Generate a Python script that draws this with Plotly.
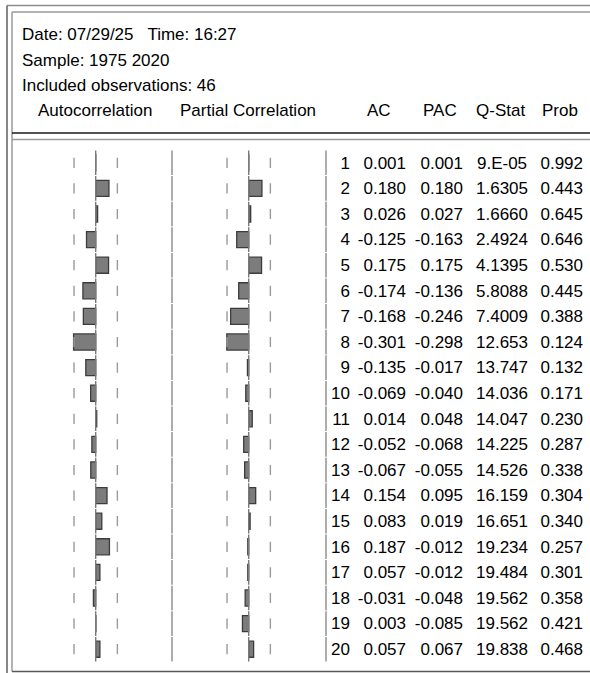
import plotly.graph_objects as go

# ---------------- data ----------------
header_lines = ["Date: 07/29/25   Time: 16:27", "Sample: 1975 2020", "Included observations: 46"]
panel_titles = ["Autocorrelation", "Partial Correlation"]
col_headers = ["AC", "PAC", "Q-Stat", "Prob"]
n_obs = 46
lags = list(range(1, 21))
ac = [0.001, 0.180, 0.026, -0.125, 0.175, -0.174, -0.168, -0.301, -0.135, -0.069,
      0.014, -0.052, -0.067, 0.154, 0.083, 0.187, 0.057, -0.031, 0.003, 0.057]
pac = [0.001, 0.180, 0.027, -0.163, 0.175, -0.136, -0.246, -0.298, -0.017, -0.040,
       0.048, -0.068, -0.055, 0.095, 0.019, -0.012, -0.012, -0.048, -0.085, 0.067]
q_stat = [9e-05, 1.6305, 1.6660, 2.4924, 4.1395, 5.8088, 7.4009, 12.653, 13.747, 14.036,
          14.047, 14.225, 14.526, 16.159, 16.651, 19.234, 19.484, 19.562, 19.562, 19.838]
prob = [0.992, 0.443, 0.645, 0.646, 0.530, 0.445, 0.388, 0.124, 0.132, 0.171,
        0.230, 0.287, 0.338, 0.304, 0.340, 0.257, 0.301, 0.358, 0.421, 0.468]

bound = 2 / n_obs ** 0.5


def fmt_q(v):
    if v < 0.001:
        m, e = f"{v:.0E}".split("E")
        return f"{m}.E{e}"
    intlen = len(str(int(v)))
    return f"{v:.{5 - intlen}f}"


# ---------------- geometry (pixels) ----------------
W, H = 590, 673
FONT = "Liberation Sans, Arial, sans-serif"
FS = 17
ROW_TOP, ROW_BOT = 150, 662
TXT_SHIFT = 1.5
SCALE = 73.5
AC_C, PAC_C = 95.7, 248.7


def px(x):
    return x / W


def py(y):
    return 1 - y / H


fig = go.Figure()
n = len(lags)


def seg_xy(xval):
    xs, ys = [], []
    for i in lags:
        xs += [xval, xval, None]
        ys += [i - 0.48, i + 0.48, None]
    return xs, ys


def dash_xy(xval):
    xs, ys = [], []
    for i in lags:
        xs += [xval, xval, None]
        ys += [i - 0.2, i + 0.2, None]
    return xs, ys


for xa in ["x", "x2"]:
    for b in (-bound, bound):
        xs, ys = dash_xy(b)
        fig.add_trace(go.Scatter(x=xs, y=ys, mode="lines", xaxis=xa, yaxis="y",
                                 line=dict(color="#9a9a9a", width=1.4), hoverinfo="skip"))
    xs, ys = seg_xy(0)
    fig.add_trace(go.Scatter(x=xs, y=ys, mode="lines", xaxis=xa, yaxis="y",
                             line=dict(color="#7a7a7a", width=1.4), hoverinfo="skip"))

for xa, vals in (("x", ac), ("x2", pac)):
    fig.add_trace(go.Bar(x=vals, y=lags, orientation="h", xaxis=xa, yaxis="y",
                         width=0.63, base=0,
                         marker=dict(color="#7c7c7c", line=dict(color="#3c3c3c", width=1.3)),
                         hoverinfo="skip"))

# separators between panels (pixel axis x3)
for sx in (172, 326):
    xs, ys = seg_xy(sx)
    fig.add_trace(go.Scatter(x=xs, y=ys, mode="lines", xaxis="x3", yaxis="y",
                             line=dict(color="#8a8a8a", width=1.4), hoverinfo="skip"))

# text columns
cols = [
    (350, "middle left", [str(l) for l in lags]),
    (406, "middle left", [f"{v:.3f}" for v in ac]),
    (463, "middle left", [f"{v:.3f}" for v in pac]),
    (502, "middle center", [fmt_q(v) for v in q_stat]),
    (583, "middle left", [f"{v:.3f}" for v in prob]),
]
for xpos, tp, texts in cols:
    fig.add_trace(go.Scatter(x=[xpos] * n, y=lags, mode="text", text=texts,
                             textposition=tp, xaxis="x3", yaxis="y2", cliponaxis=False,
                             textfont=dict(family=FONT, size=FS, color="#000000"),
                             hoverinfo="skip"))

axis_common = dict(showgrid=False, zeroline=False, showticklabels=False, ticks="",
                   showline=False, fixedrange=True)
fig.update_layout(
    width=W, height=H, margin=dict(l=0, r=0, t=0, b=0),
    paper_bgcolor="white", plot_bgcolor="rgba(0,0,0,0)",
    showlegend=False, barmode="overlay",
    xaxis=dict(domain=[px(AC_C - SCALE), px(AC_C + SCALE)], range=[-1, 1], anchor="y", **axis_common),
    xaxis2=dict(domain=[px(PAC_C - SCALE), px(PAC_C + SCALE)], range=[-1, 1], anchor="y", **axis_common),
    xaxis3=dict(domain=[0, 1], range=[0, W], anchor="y", **axis_common),
    yaxis=dict(domain=[py(ROW_BOT), py(ROW_TOP)], range=[n + 0.5, 0.5], **axis_common),
    yaxis2=dict(domain=[py(ROW_BOT + TXT_SHIFT), py(ROW_TOP + TXT_SHIFT)], range=[n + 0.5, 0.5],
                anchor="x3", **axis_common),
)

# header annotations
ann = []
for k, t in enumerate(header_lines):
    ann.append(dict(x=px(20), y=py(34.5 + 25.6 * k), xref="paper", yref="paper", text=t,
                    xanchor="left", yanchor="middle", showarrow=False,
                    font=dict(family=FONT, size=FS, color="#000")))
hy = py(111)
for t, cx in zip(panel_titles, (95, 248)):
    ann.append(dict(x=px(cx), y=hy, xref="paper", yref="paper", text=t, xanchor="center",
                    yanchor="middle", showarrow=False, font=dict(family=FONT, size=FS, color="#000")))
for t, cx in zip(col_headers, (379, 440, 500, 560)):
    ann.append(dict(x=px(cx), y=hy, xref="paper", yref="paper", text=t, xanchor="center",
                    yanchor="middle", showarrow=False, font=dict(family=FONT, size=FS, color="#000")))
fig.update_layout(annotations=ann)


def line(x0, y0, x1, y1, color, w):
    return dict(type="line", xref="paper", yref="paper", x0=px(x0), y0=py(y0), x1=px(x1), y1=py(y1),
                line=dict(color=color, width=w))


shapes = [
    line(7, 5.5, W + 2, 5.5, "#8c8c8c", 1.6),
    line(7, 5.5, 7, H + 2, "#6a6a6a", 1.6),
    line(12, 12, W + 2, 12, "#9a9a9a", 1.6),
    line(12, 12, 12, 671.5, "#a0a0a0", 1.6),
    line(12, 671.5, W + 2, 671.5, "#5a5a5a", 1.6),
    line(12, 133, W + 2, 133, "#1a1a1a", 1.5),
    line(12, 139.5, W + 2, 139.5, "#9a9a9a", 1.6),
]
fig.update_layout(shapes=shapes)

fig.write_html("out.html", config={"displayModeBar": False},
               post_script="document.body.style.margin='0';document.body.style.overflow='hidden';")
